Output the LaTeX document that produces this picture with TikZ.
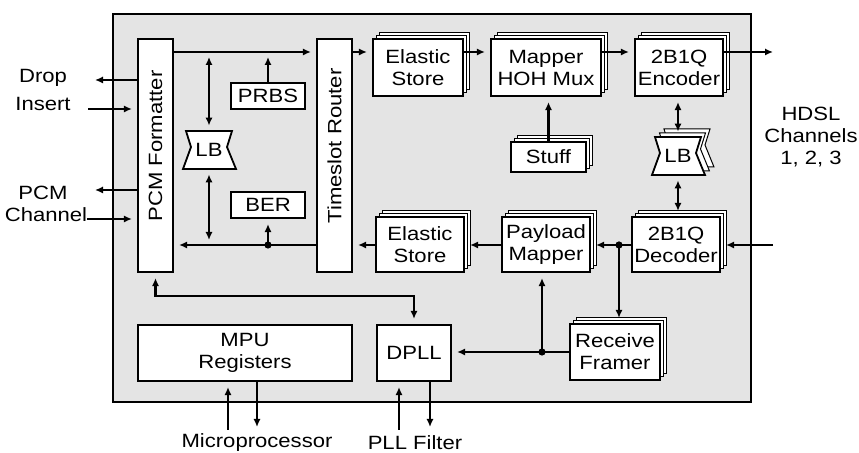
\documentclass[tikz,border=0pt]{standalone}
\usepackage{fontspec}
\setmainfont{Liberation Sans}[FakeStretch=1.15]
\usepackage{tikz}
\usetikzlibrary{
  arrows.meta,
  shadows
}
\definecolor{PanelGray}{RGB}{228, 228, 228}
\tikzset{
    panel/.style={draw, fill=PanelGray, line width=1.1pt, inner sep=0pt},
    blk/.style={draw, fill=white, line width=1.1pt, inner sep=0pt, align=center},
    stack/.style={blk,
        copy shadow={shadow xshift=3.3pt, shadow yshift=3pt, line width=0.5pt},
        copy shadow={shadow xshift=1.65pt, shadow yshift=1.5pt, line width=0.5pt}},
    lbl/.style={align=center, inner sep=0pt},
    lbline/.style={draw, fill=white, line width=0.9pt},
    lbcopy/.style={draw, fill=white, line width=0.5pt},
    conn/.style={line width=1.35pt, -{Latex[length=4pt,width=3.6pt]}, shorten >=2.5pt},
    dbl/.style={line width=1.35pt, {Latex[length=4pt,width=3.6pt]}-{Latex[length=4pt,width=3.6pt]}, shorten >=2.5pt, shorten <=2.5pt},
    dot/.style={circle, fill, inner sep=0pt, minimum size=3.6pt}
}
\newcommand{\lbdraw}[1]{\path[#1] (-23,-19) -- (23,-19) -- (18,-3) -- (27,19) -- (-26,19) -- (-18,-3) -- cycle;}

\begin{document}
\begin{tikzpicture}[x=0.5pt, y=-0.5pt, font=\fontsize{9.6}{11}\selectfont]
    \useasboundingbox (0,0) rectangle (859,453);
    \node[panel, minimum width=319pt, minimum height=194pt] (chip) at (432,208) {};

    \coordinate (rowT) at (0,52);
    \coordinate (rowB) at (0,245);
    \coordinate (rowF) at (0,352);
    \coordinate (busB) at (0,296);

    \node[blk, minimum width=17.5pt, minimum height=116.5pt] (pcm) at (155.5,155.5) {};
    \node[lbl, rotate=90] (pcmtxt) at (155.5,146) {PCM Formatter};
    \node[blk, minimum width=17.5pt, minimum height=116.5pt] (tsr) at (334.5,155.5) {};
    \node[lbl, rotate=90] (tsrtxt) at (334.5,146) {Timeslot Router};

    \node[stack, minimum width=45pt, minimum height=28.5pt] (esT) at (418,67.5) {Elastic\\Store};
    \node[stack, minimum width=55pt, minimum height=28.5pt] (mux) at (546,67.5) {Mapper\\HOH Mux};
    \node[stack, minimum width=44pt, minimum height=28.5pt] (enc) at (679,67.5) {2B1Q\\Encoder};
    \node[blk, minimum width=37pt, minimum height=13pt] (prbs) at (268,96) {PRBS};
    \node[blk, minimum width=37pt, minimum height=13pt] (ber) at (268,205) {BER};
    \node[stack, minimum width=37.5pt, minimum height=15pt] (stuff) at (548.5,157) {Stuff};

    \node[stack, minimum width=44pt, minimum height=27.5pt] (dec) at (676,244.5) {2B1Q\\Decoder};
    \node[stack, minimum width=44pt, minimum height=27.5pt] (pay) at (546,244.5) {Payload\\Mapper};
    \node[stack, minimum width=44pt, minimum height=27.5pt] (esB) at (420,244.5) {Elastic\\Store};

    \node[blk, minimum width=107pt, minimum height=28pt] (mpu) at (245,353) {MPU\\Registers};
    \node[blk, minimum width=37pt, minimum height=28pt] (dpll) at (414,353) {DPLL};
    \node[stack, minimum width=45pt, minimum height=28pt] (frm) at (615,352) {Receive\\Framer};

    \lbdraw{lbline, shift={(209,150)}}
    \node[lbl, minimum width=23pt, minimum height=19pt] (lbL) at (209,150) {LB};
    \lbdraw{lbcopy, shift={(687,148)}}
    \lbdraw{lbcopy, shift={(682.5,152)}}
    \lbdraw{lbline, shift={(678,156)}}
    \node[lbl, minimum width=23pt, minimum height=19pt] (lbR) at (678,156) {LB};

    \node[lbl] (dropT) at (43,78) {Drop};
    \node[lbl] (insT) at (43,104) {Insert};
    \node[lbl] (pcmT) at (43,193) {PCM};
    \node[lbl] (chT) at (46,215) {Channel};
    \node[lbl] (hdslT) at (811,137) {HDSL\\Channels\\1, 2, 3};
    \node[lbl] (mpT) at (257,443) {Microprocessor};
    \node[lbl] (pllT) at (415,443) {PLL Filter};

    \coordinate (dropE) at (90,80);
    \coordinate (insS) at (88,109);
    \coordinate (pcmE) at (90,190);
    \coordinate (chS) at (87,219);
    \coordinate (hdslO) at (778,52);
    \coordinate (hdslI) at (773,245);
    \coordinate (mpuI) at (228,430);
    \coordinate (mpuO) at (257,432);
    \coordinate (pllI) at (399,430);
    \coordinate (pllO) at (430,432);

    \draw[conn] (pcm.east |- rowT) -- (tsr.west |- rowT);
    \draw[conn] (tsr.east |- rowT) -- (esT.west |- rowT);
    \draw[conn] (esT.east |- rowT) -- (mux.west |- rowT);
    \draw[conn] (mux.east |- rowT) -- (enc.west |- rowT);
    \draw[conn] (enc.east |- rowT) -- (hdslO);
    \draw[conn] (prbs.north) -- (prbs.north |- rowT);
    \draw[conn] (stuff.north) -- (stuff.north |- mux.south);
    \draw[dbl] (lbL.north |- rowT) -- (lbL.north);
    \draw[dbl] (lbL.south) -- (lbL.south |- rowB);
    \draw[dbl] (lbR.north |- enc.south) -- (lbR.north);
    \draw[dbl] (lbR.south) -- (lbR.south |- dec.north);

    \node[dot] (d1) at (619,245) {};
    \node[dot] (d2) at (ber.south |- rowB) {};
    \node[dot] (d3) at (542,352) {};
    \draw[conn] (hdslI) -- (dec.east |- rowB);
    \draw[conn] (dec.west |- rowB) -- (pay.east |- rowB);
    \draw[conn] (pay.west |- rowB) -- (esB.east |- rowB);
    \draw[conn] (esB.west |- rowB) -- (tsr.east |- rowB);
    \draw[conn] (tsr.west |- rowB) -- (pcm.east |- rowB);
    \draw[conn] (d1.center) -- (d1 |- frm.north);
    \draw[conn] (d2.center) -- (ber.south);
    \draw[conn] (frm.west |- rowF) -- (dpll.east |- rowF);
    \draw[conn] (d3.center) -- (d3 |- pay.south);
    \draw[dbl] (pcm.south) -- (pcm.south |- busB) -- (dpll.north |- busB) -- (dpll.north);

    \draw[conn] (pcm.west |- dropE) -- (dropE);
    \draw[conn] (insS) -- (pcm.west |- insS);
    \draw[conn] (pcm.west |- pcmE) -- (pcmE);
    \draw[conn] (chS) -- (pcm.west |- chS);

    \draw[conn] (mpuI) -- (mpuI |- mpu.south);
    \draw[conn] (mpu.south -| mpuO) -- (mpuO);
    \draw[conn] (pllI) -- (pllI |- dpll.south);
    \draw[conn] (dpll.south -| pllO) -- (pllO);
\end{tikzpicture}
\end{document}
